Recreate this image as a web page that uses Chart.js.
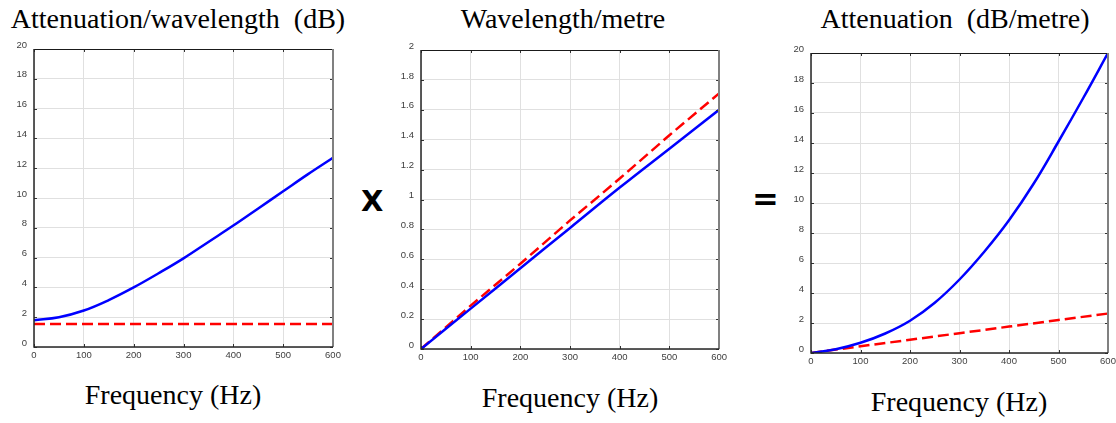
<!DOCTYPE html>
<html>
<head>
<meta charset="utf-8">
<title>Attenuation, wavelength and frequency</title>
<script src="https://cdn.jsdelivr.net/npm/chart.js@4.4.0/dist/chart.umd.min.js"></script>
<style>
  body { margin: 0; width: 1116px; height: 423px; overflow: hidden; background: #fff; position: relative; }
  canvas { position: absolute; }
  .label { position: absolute; width: 400px; text-align: center; font-family: "Liberation Serif", serif; font-size: 28px; line-height: 28px; color: #000; white-space: pre; }
  .op { position: absolute; font-family: "DejaVu Sans", sans-serif; font-weight: bold; line-height: 1; color: #000; }
</style>
</head>
<body>

<div class="label" style="left:-22px;top:5px">Attenuation/wavelength  (dB)</div>
<div class="label" style="left:363px;top:5px">Wavelength/metre</div>
<div class="label" style="left:755px;top:5px">Attenuation  (dB/metre)</div>

<div class="label" style="left:-27px;top:381px">Frequency (Hz)</div>
<div class="label" style="left:370px;top:384px">Frequency (Hz)</div>
<div class="label" style="left:759px;top:388px">Frequency (Hz)</div>

<div class="op" style="left:361px;top:187px;font-size:29px">X</div>
<div class="op" style="left:752px;top:183px;font-size:32px">=</div>

<canvas id="chartA" width="345" height="335" style="left:0px;top:35px"></canvas>
<canvas id="chartB" width="350" height="335" style="left:380px;top:35px"></canvas>
<canvas id="chartC" width="350" height="340" style="left:770px;top:35px"></canvas>

<script>
// Frequencies (Hz) the curves were read at
const freqFine = [0, 50, 100, 150, 200, 250, 300, 350, 400, 450, 500, 550, 600]
const freqCoarse = [0, 100, 200, 300, 400, 500, 600]

// Panel 1: attenuation per wavelength (dB)
const attPerWaveBlue = [1.8, 2.0, 2.45, 3.15, 4.0, 4.95, 5.95, 7.05, 8.15, 9.3, 10.45, 11.6, 12.7]
const attPerWaveRed = [1.55, 1.55, 1.55, 1.55, 1.55, 1.55, 1.55, 1.55, 1.55, 1.55, 1.55, 1.55, 1.55]

// Panel 2: wavelength per metre
const wavePerMetreBlue = [0, 0.27, 0.54, 0.81, 1.08, 1.34, 1.6]
const wavePerMetreRed = [0, 0.29, 0.57, 0.86, 1.14, 1.43, 1.71]

// Panel 3: attenuation (dB/metre)
const attPerMetreBlue = [0, 0.25, 0.68, 1.3, 2.15, 3.35, 4.9, 6.75, 8.85, 11.3, 14.1, 17.0, 20]
const attPerMetreRed = [0, 0.45, 0.88, 1.32, 1.76, 2.2, 2.63]

// Axis ticks
const freqTicks = { min: 0, max: 600, step: 100 }
const dbTicks = { min: 0, max: 20, step: 2 }
const waveTicks = { min: 0, max: 2, step: 0.2 }

const BLUE = "#0000ff"
const RED = "#ff0000"

// Draws the dark box round the plot plus small inward tick marks
const framePlugin = {
  id: "frame",
  afterDatasetsDraw(chart) {
    const { ctx, chartArea: a, scales } = chart
    ctx.save()
    ctx.strokeStyle = "#333"
    ctx.lineWidth = 1
    scales.x.ticks.forEach((t) => {
      const px = Math.round(scales.x.getPixelForValue(t.value)) + 0.5
      ctx.beginPath()
      ctx.moveTo(px, a.bottom); ctx.lineTo(px, a.bottom - 3)
      ctx.moveTo(px, a.top); ctx.lineTo(px, a.top + 3)
      ctx.stroke()
    })
    scales.y.ticks.forEach((t) => {
      const py = Math.round(scales.y.getPixelForValue(t.value)) + 0.5
      ctx.beginPath()
      ctx.moveTo(a.left, py); ctx.lineTo(a.left + 3, py)
      ctx.moveTo(a.right, py); ctx.lineTo(a.right - 3, py)
      ctx.stroke()
    })
    // top edge
    ctx.strokeStyle = "#1a1a1a"
    ctx.beginPath()
    ctx.moveTo(a.left, Math.round(a.top) + 0.5); ctx.lineTo(a.right, Math.round(a.top) + 0.5)
    ctx.stroke()
    // right edge, greyer and a bit thicker
    ctx.strokeStyle = "#808080"
    ctx.lineWidth = 2
    ctx.beginPath()
    ctx.moveTo(Math.round(a.right), a.top); ctx.lineTo(Math.round(a.right), a.bottom)
    ctx.stroke()
    // left and bottom edges
    ctx.strokeStyle = "#262626"
    ctx.lineWidth = 1.5
    ctx.beginPath()
    ctx.moveTo(a.left, a.top); ctx.lineTo(a.left, a.bottom); ctx.lineTo(a.right, a.bottom)
    ctx.stroke()
    ctx.restore()
  },
}

function toPoints(xs, ys) {
  return xs.map((x, i) => ({ x: x, y: ys[i] }))
}

function tickText(v) {
  return String(Math.round(v * 10) / 10)
}

// Build one panel; box = plot area inside the canvas
function makePanel(id, box, yTicks, blue, red) {
  const canvas = document.getElementById(id)
  const tickFont = { family: "'Liberation Sans', Arial, sans-serif", size: 9.5 }

  return new Chart(canvas.getContext("2d"), {
    type: "line",
    data: {
      datasets: [
        {
          data: toPoints(blue.x, blue.y),
          borderColor: BLUE,
          borderWidth: 2.5,
          pointRadius: 0,
          tension: 0.4,
          fill: false,
        },
        {
          data: toPoints(red.x, red.y),
          borderColor: RED,
          borderWidth: 2.5,
          borderDash: [11, 5],
          pointRadius: 0,
          tension: 0,
          fill: false,
        },
      ],
    },
    options: {
      responsive: false,
      animation: false,
      events: [],
      layout: {
        padding: { left: 0, top: box.top, right: canvas.width - box.right, bottom: 0 },
      },
      plugins: {
        legend: { display: false },
        tooltip: { enabled: false },
      },
      scales: {
        x: {
          type: "linear",
          min: freqTicks.min,
          max: freqTicks.max,
          afterFit: (scale) => { scale.height = canvas.height - box.bottom },
          ticks: { stepSize: freqTicks.step, color: "#404040", font: tickFont, padding: 3, maxRotation: 0 },
          grid: { color: "#e0e0e0", lineWidth: 1, drawTicks: false },
          border: { display: false },
        },
        y: {
          type: "linear",
          min: yTicks.min,
          max: yTicks.max,
          afterFit: (scale) => { scale.width = box.left },
          ticks: {
            stepSize: yTicks.step,
            color: "#404040",
            font: tickFont,
            padding: 7,
            labelOffset: -4,
            callback: tickText,
          },
          grid: { color: "#e0e0e0", lineWidth: 1, drawTicks: false },
          border: { display: false },
        },
      },
    },
    plugins: [framePlugin],
  })
}

makePanel("chartA", { left: 34, top: 14, right: 333, bottom: 312 }, dbTicks,
  { x: freqFine, y: attPerWaveBlue }, { x: freqFine, y: attPerWaveRed })

makePanel("chartB", { left: 41, top: 15, right: 340, bottom: 314 }, waveTicks,
  { x: freqCoarse, y: wavePerMetreBlue }, { x: freqCoarse, y: wavePerMetreRed })

makePanel("chartC", { left: 41, top: 18, right: 338, bottom: 318 }, dbTicks,
  { x: freqFine, y: attPerMetreBlue }, { x: freqCoarse, y: attPerMetreRed })
</script>
</body>
</html>
